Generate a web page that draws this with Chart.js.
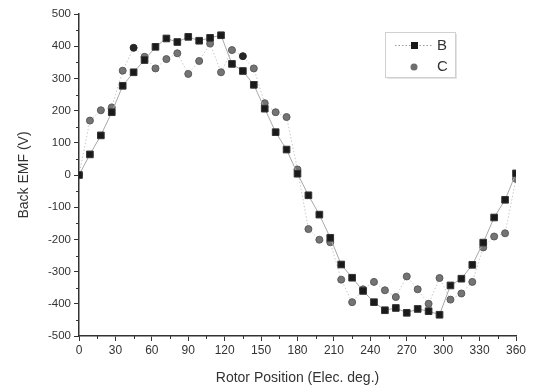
<!DOCTYPE html>
<html>
<head>
<meta charset="utf-8">
<script src="https://cdn.jsdelivr.net/npm/chart.js@4/dist/chart.umd.min.js"></script>
<style>
    html, body { margin: 0; padding: 0; background: #fff; }
    #wrap { width: 535px; height: 391px; }
</style>
</head>
<body>
<div id="wrap"><canvas id="emf"></canvas></div>
<script>
// rotor position, electrical degrees
const angles = [0, 9, 18, 27, 36, 45, 54, 63, 72, 81, 90, 99, 108, 117, 126, 135, 144, 153, 162, 171,
    180, 189, 198, 207, 216, 225, 234, 243, 252, 261, 270, 279, 288, 297, 306, 315, 324, 333, 342, 351, 360];

// back EMF (V)
const emfB = [0, 64, 123, 195, 277, 319, 357, 398, 424, 413, 429, 417, 426, 434, 345, 323, 280, 206, 133, 79,
    4, -63, -123, -195, -278, -319, -360, -395, -420, -413, -428, -416, -423, -434, -343, -322, -279, -210, -132, -77, 5];
const emfC = [0, 169, 201, 210, 324, 395, 367, 331, 360, 378, 314, 354, 408, 319, 388, 369, 331, 223, 195, 180,
    17, -168, -201, -209, -325, -395, -355, -332, -358, -379, -315, -355, -400, -320, -387, -368, -332, -225, -191, -181, -12];

const xTicks = [0, 30, 60, 90, 120, 150, 180, 210, 240, 270, 300, 330, 360];
const yTicks = [-500, -400, -300, -200, -100, 0, 100, 200, 300, 400, 500];

const FONT = '"Liberation Sans", Arial, sans-serif';

const toPoints = (ys) => angles.map((a, i) => ({ x: a, y: ys[i] }));

// short minor ticks between the labelled ones
const minorTicks = {
    id: 'minorTicks',
    afterDraw(chart) {
        const ctx = chart.ctx;
        const xs = chart.scales.x;
        const ys = chart.scales.y;
        ctx.save();
        ctx.strokeStyle = '#333';
        ctx.lineWidth = 1;
        ctx.beginPath();
        for (let i = 0; i < xTicks.length - 1; i++) {
            const px = Math.round(xs.getPixelForValue((xTicks[i] + xTicks[i + 1]) / 2)) + 0.5;
            ctx.moveTo(px, ys.bottom);
            ctx.lineTo(px, ys.bottom + 3);
        }
        for (let i = 0; i < yTicks.length - 1; i++) {
            const py = Math.round(ys.getPixelForValue((yTicks[i] + yTicks[i + 1]) / 2)) + 0.5;
            ctx.moveTo(xs.left, py);
            ctx.lineTo(xs.left - 3, py);
        }
        ctx.stroke();
        ctx.restore();
    }
};

// boxed legend inside the plot, top right
const boxLegend = {
    id: 'boxLegend',
    afterDraw(chart) {
        const ctx = chart.ctx;
        const area = chart.chartArea;
        const bx = area.right - 131, by = area.top + 18, bw = 70, bh = 45;
        ctx.save();
        ctx.fillStyle = '#e4e4e4';
        ctx.fillRect(bx + 2, by + 2, bw, bh);
        ctx.fillStyle = '#fff';
        ctx.fillRect(bx, by, bw, bh);
        ctx.strokeStyle = '#d0d0d0';
        ctx.lineWidth = 1;
        ctx.strokeRect(bx + 0.5, by + 0.5, bw, bh);

        // B
        ctx.strokeStyle = '#999';
        ctx.setLineDash([1.5, 2]);
        ctx.beginPath();
        ctx.moveTo(bx + 10, by + 13.5);
        ctx.lineTo(bx + 48, by + 13.5);
        ctx.stroke();
        ctx.setLineDash([]);
        ctx.fillStyle = '#1a1a1a';
        ctx.fillRect(bx + 26, by + 10, 7, 7);
        // C
        ctx.fillStyle = '#6e6e6e';
        ctx.beginPath();
        ctx.arc(bx + 29, by + 35, 3.5, 0, Math.PI * 2);
        ctx.fill();

        ctx.fillStyle = '#333';
        ctx.font = '15px ' + FONT;
        ctx.textBaseline = 'middle';
        ctx.fillText(chart.data.datasets[0].label, bx + 52, by + 14);
        ctx.fillText(chart.data.datasets[1].label, bx + 52, by + 35);
        ctx.restore();
    }
};

new Chart(document.getElementById('emf'), {
    type: 'scatter',
    data: {
        datasets: [{
            label: 'B',
            data: toPoints(emfB),
            showLine: true,
            borderColor: '#a8a8a8',
            borderWidth: 1,
            pointStyle: 'rect',
            pointRadius: 4.7,
            pointBackgroundColor: '#1a1a1a',
            pointBorderColor: '#333',
            pointBorderWidth: 1,
            order: 1,
        }, {
            label: 'C',
            data: toPoints(emfC),
            showLine: true,
            borderColor: '#c8c8c8',
            borderWidth: 1,
            borderDash: [1.5, 2],
            pointStyle: 'circle',
            pointRadius: 3.5,
            pointBackgroundColor: (c) => ([5, 15].includes(c.dataIndex) ? '#262626' : '#747474'),
            pointBorderColor: (c) => ([5, 15].includes(c.dataIndex) ? '#262626' : '#5a5a5a'),
            pointBorderWidth: 1,
            order: 2,
        }],
    },
    options: {
        responsive: true,
        maintainAspectRatio: false,
        animation: false,
        layout: {
            padding: { top: 14, right: 19, bottom: 0, left: 0 },
        },
        scales: {
            x: {
                type: 'linear',
                min: 0,
                max: 360,
                afterBuildTicks: (s) => { s.ticks = xTicks.map(v => ({ value: v })); },
                afterFit: (s) => { s.height = 55; },
                border: { display: true, color: '#333', width: 1.5 },
                grid: { drawOnChartArea: false, drawTicks: true, tickLength: 5, color: '#333' },
                ticks: {
                    padding: 2,
                    color: '#333',
                    maxRotation: 0,
                    font: { family: FONT, size: 12 },
                },
                title: {
                    display: true,
                    text: 'Rotor Position (Elec. deg.)',
                    color: '#333',
                    font: { family: FONT, size: 14 },
                    padding: { top: 6, bottom: 4 },
                },
            },
            y: {
                type: 'linear',
                min: -500,
                max: 500,
                afterBuildTicks: (s) => { s.ticks = yTicks.map(v => ({ value: v })); },
                afterFit: (s) => { s.width = 79; },
                border: { display: true, color: '#333', width: 1.5 },
                grid: { drawOnChartArea: false, drawTicks: true, tickLength: 5, color: '#333' },
                ticks: {
                    padding: 3,
                    color: '#333',
                    font: { family: FONT, size: 11.5 },
                },
                title: {
                    display: true,
                    text: 'Back EMF (V)',
                    color: '#333',
                    font: { family: FONT, size: 14 },
                    padding: { top: 16, bottom: 4 },
                },
            },
        },
        plugins: {
            legend: { display: false },
            tooltip: { enabled: false },
        },
    },
    plugins: [minorTicks, boxLegend],
});
</script>
</body>
</html>
